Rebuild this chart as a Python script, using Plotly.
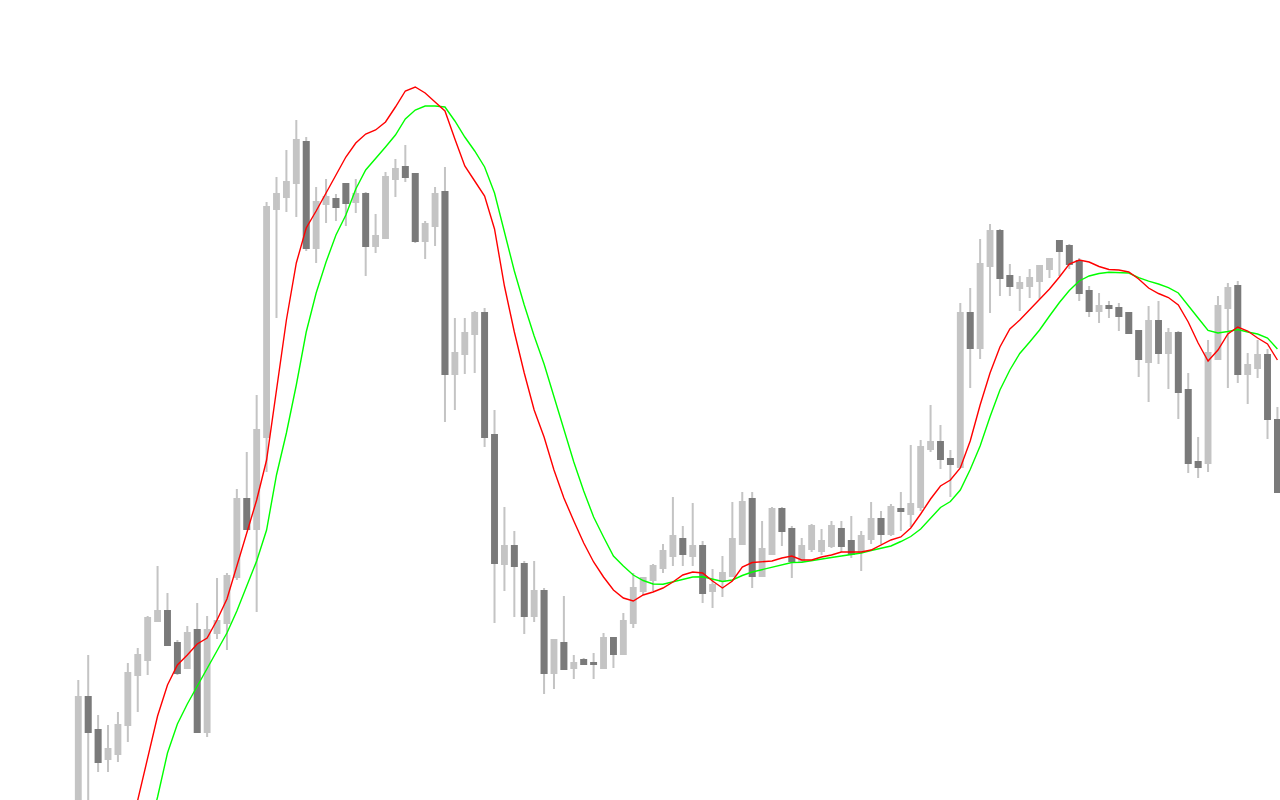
import plotly.graph_objects as go

# Candle OHLC values (price units), one entry per bar
open_ = [-30, 103, 70, 41, 46, 75, 125, 140, 179, 189, 157, 132, 170, 68, 167, 177, 223, 301, 271, 363,
         591, 603, 617, 658, 552, 596, 601, 616, 598, 606, 554, 562, 621, 633, 626, 559, 574, 608, 426, 446,
         466, 487, 365, 236, 254, 236, 184, 209, 127, 157, 132, 140, 137, 132, 162, 146, 177, 209, 220, 232,
         244, 261, 244, 254, 209, 219, 224, 256, 301, 224, 246, 291, 271, 239, 251, 249, 254, 271, 259, 248,
         261, 281, 266, 291, 286, 293, 351, 358, 341, 333, 487, 452, 534, 569, 524, 512, 514, 519, 531, 559,
         554, 539, 509, 489, 494, 492, 487, 469, 438, 479, 447, 467, 410, 338, 337, 441, 492, 514, 426, 432,
         445, 380]
high = [120, 145, 85, 75, 88, 137, 152, 184, 234, 207, 160, 174, 197, 184, 222, 227, 311, 348, 405, 598,
        623, 650, 680, 663, 613, 621, 606, 616, 621, 608, 586, 628, 641, 655, 626, 579, 613, 633, 482, 482,
        489, 492, 390, 293, 269, 239, 239, 212, 160, 204, 145, 142, 147, 167, 162, 187, 227, 222, 236, 256,
        303, 274, 297, 259, 231, 244, 298, 308, 308, 279, 293, 293, 274, 262, 276, 271, 279, 279, 284, 269,
        298, 289, 296, 308, 355, 360, 395, 375, 350, 497, 512, 561, 576, 571, 536, 524, 531, 534, 541, 560,
        556, 542, 514, 507, 499, 497, 488, 469, 494, 499, 472, 469, 427, 363, 460, 504, 517, 519, 447, 460,
        451, 393]
low = [-40, -30, 28, 28, 38, 58, 88, 125, 179, 155, 125, 132, 68, 63, 161, 150, 220, 270, 188, 328,
       482, 588, 583, 549, 537, 577, 579, 574, 587, 524, 547, 562, 603, 618, 557, 541, 554, 378, 390, 426,
       427, 353, 177, 209, 183, 166, 178, 106, 111, 131, 121, 136, 121, 131, 132, 146, 172, 205, 209, 227,
       234, 234, 234, 197, 192, 203, 224, 256, 212, 224, 246, 254, 222, 237, 248, 245, 252, 248, 242, 229,
       256, 256, 264, 269, 273, 289, 348, 331, 303, 332, 412, 441, 487, 504, 504, 489, 502, 501, 522, 524,
       531, 499, 483, 477, 482, 469, 466, 423, 398, 436, 411, 381, 327, 322, 328, 441, 412, 417, 396, 422,
       361, 307]
close = [103, 68, 38, 51, 75, 127, 145, 182, 189, 155, 127, 167, 68, 170, 179, 224, 301, 271, 370, 593,
         606, 618, 660, 552, 598, 603, 593, 597, 606, 554, 564, 623, 631, 623, 559, 576, 606, 426, 447, 467,
         487, 363, 237, 254, 234, 184, 209, 127, 160, 131, 137, 136, 136, 162, 146, 179, 212, 222, 234, 249,
         264, 246, 254, 207, 215, 227, 261, 298, 224, 251, 291, 269, 239, 254, 274, 259, 274, 254, 246, 264,
         281, 266, 293, 289, 296, 353, 358, 341, 336, 487, 452, 536, 569, 522, 514, 517, 522, 534, 541, 549,
         536, 507, 489, 494, 492, 484, 467, 441, 479, 447, 467, 408, 337, 333, 447, 494, 512, 426, 435, 445,
         381, 308]

# Moving-average lines, one value per bar (None where the line is off the chart)
ma_fast = [None, None, None, None, None, -42, 0, 40, 84, 115, 135, 145, 156, 162, 180, 201, 234, 268, 300, 340,
           410, 480, 537, 572, 589, 607, 625, 643, 657, 666, 670, 678, 693, 709, 713, 707, 698, 689, 661, 634,
           619, 604, 571, 514, 468, 427, 390, 363, 330, 302, 279, 257, 238, 223, 210, 202, 199, 205, 208, 212,
           218, 225, 228, 227, 219, 212, 219, 233, 237.5, 238, 239, 242, 244, 240, 240, 243, 245, 248, 248, 248,
           250, 255, 260, 263, 272, 286, 301, 314, 320, 332, 359, 395, 427, 453, 471, 480, 490, 500, 511, 523,
           536, 540, 538, 533.5, 530.5, 530, 528, 521, 512, 506.5, 502.5, 495, 478, 457, 439, 450, 466, 473, 469, 462,
           456, 440]
ma_slow = [None, None, None, None, None, None, None, -35, 3, 47, 76, 96, 114, 132, 149, 167, 189, 215, 239, 270,
           325, 367, 415, 468, 507, 538, 565, 585, 611, 630, 641, 653, 665, 681, 690, 694, 694, 693, 679, 663,
           649, 633, 607, 569, 529, 495, 464, 436, 403, 370, 338, 309, 283, 263, 244, 234, 225, 219.5, 216, 215.7,
           218, 220.5, 223, 223.3, 221, 218.5, 220, 224.5, 228, 230.5, 233, 235, 237.5, 237.7, 239.5, 240.7, 242.5, 244, 245.5, 247,
           249.5, 251.5, 254, 258.5, 263.5, 271, 282, 292.5, 298.5, 310, 330.5, 354, 383.3, 410, 430, 446.5, 458, 470, 484, 497.5,
           509.5, 519, 524, 526.5, 527.7, 527.7, 527, 522.4, 518.8, 516, 512.3, 507, 495, 482, 469.5, 467, 468.5, 470.5, 468, 466,
           462, 451]

LIGHT = "#c4c4c4"
DARK = "#7a7a7a"

idx = list(range(len(close)))

# Bearish bodies, drawn over the light candles so all wicks stay light grey
dn_open = [o if c < o else None for o, c in zip(open_, close)]
dn_close = [c if c < o else None for o, c in zip(open_, close)]

fig = go.Figure()
fig.add_trace(go.Candlestick(
    x=idx, open=open_, high=high, low=low, close=close,
    increasing=dict(line=dict(color=LIGHT, width=2), fillcolor=LIGHT),
    decreasing=dict(line=dict(color=LIGHT, width=2), fillcolor=LIGHT),
    whiskerwidth=0, hoverinfo="skip", showlegend=False,
))
fig.add_trace(go.Candlestick(
    x=idx, open=dn_open, high=dn_open, low=dn_close, close=dn_close,
    increasing=dict(line=dict(color=DARK, width=2), fillcolor=DARK),
    decreasing=dict(line=dict(color=DARK, width=2), fillcolor=DARK),
    whiskerwidth=0, hoverinfo="skip", showlegend=False,
))
fig.add_trace(go.Scatter(x=idx, y=ma_slow, mode="lines", line=dict(color="#00ff00", width=1.4),
                         hoverinfo="skip", showlegend=False, connectgaps=False))
fig.add_trace(go.Scatter(x=idx, y=ma_fast, mode="lines", line=dict(color="#ff0000", width=1.4),
                         hoverinfo="skip", showlegend=False, connectgaps=False))

fig.update_layout(
    width=1280, height=800,
    margin=dict(l=0, r=0, t=0, b=0),
    paper_bgcolor="white", plot_bgcolor="white",
    showlegend=False,
    xaxis=dict(range=[-7.9, 121.26], visible=False, rangeslider=dict(visible=False), fixedrange=True),
    yaxis=dict(range=[0, 800], visible=False, fixedrange=True),
)

fig.write_html(
    "out.html",
    config={"displayModeBar": False, "staticPlot": True},
    post_script="document.body.style.margin='0';document.body.style.overflow='hidden';",
)
